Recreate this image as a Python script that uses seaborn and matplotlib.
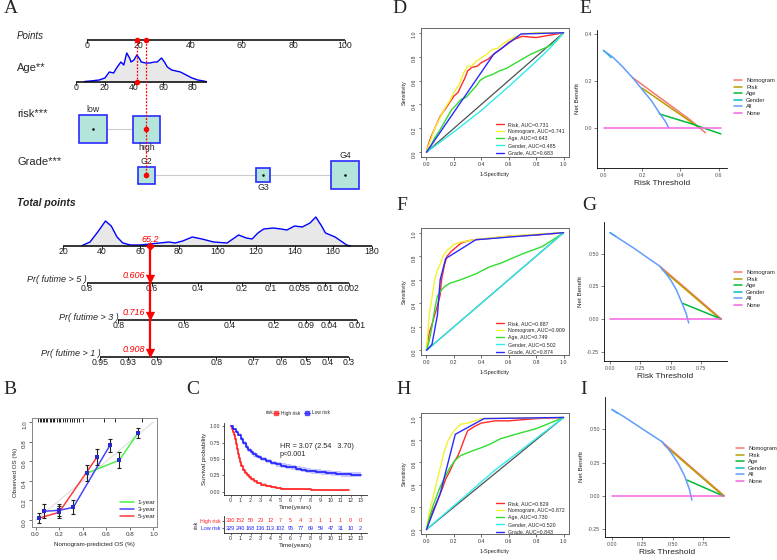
# ==========================================================
# Nomogram + calibration + KM + ROC + DCA (multi-panel figure)
# ==========================================================
import numpy as np
import pandas as pd
import seaborn as sns
import matplotlib.pyplot as plt
from matplotlib.lines import Line2D
from matplotlib.patches import Rectangle

# ----------------------------------------------------------
# 1. Data
# ----------------------------------------------------------
# A - nomogram
points_ticks = [0, 20, 40, 60, 80, 100]
age_ticks = [0, 20, 40, 60, 80]
age_grid = [6, 10, 16, 20, 23, 26, 28, 31, 33, 35, 37, 38, 40, 42, 44, 45, 48, 51, 54, 56,
            59, 61, 63, 66, 69, 72, 76, 80, 84, 88, 90]
age_dens = [0.5, 1, 2, 4, 10, 9, 14, 20, 17, 29, 24, 20, 22, 27, 23, 20, 19, 19, 20, 20,
            24, 20, 15, 12, 11, 10, 7, 4, 2, 1, 0.3]
risk_levels = ['low', 'high']
risk_points = [2.3, 23.0]
grade_levels = ['G2', 'G3', 'G4']
grade_points = [23.0, 68.2, 100.0]
total_ticks = [20, 40, 60, 80, 100, 120, 140, 160, 180]
total_grid = [30, 34, 38, 42, 45, 48, 51, 55, 60, 65, 70, 75, 78, 82, 87, 92, 98, 105, 108, 111,
              115, 118, 121, 124, 129, 133, 136, 140, 144, 148, 151, 154, 156, 161, 164, 167, 169]
total_dens = [0.5, 4, 14, 25, 20, 9, 3, 1, 1, 2, 3, 4, 3, 5, 9, 7, 4, 3, 7, 11,
              8, 7, 13, 17, 18, 17, 16, 20, 19, 23, 29, 20, 13, 9, 5, 1, 0]
pr_titles = ['Pr( futime > 5 )', 'Pr( futime > 3 )', 'Pr( futime > 1 )']
pr_pred = [0.606, 0.716, 0.908]
pr_ticks = [[0.8, 0.6, 0.4, 0.2, 0.1, 0.035, 0.01, 0.002],
            [0.8, 0.6, 0.4, 0.2, 0.09, 0.04, 0.01],
            [0.95, 0.93, 0.9, 0.8, 0.7, 0.6, 0.5, 0.4, 0.3]]
patient_age = 42
patient_total = 65.2
cox_beta = 0.0245          # log-hazard per total point

# B - calibration
cal_groups = ['1-year', '3-year', '5-year']
cal_pred_1y = [0.44, 0.71, 0.87]
cal_obs_1y = [0.48, 0.61, 0.89]
cal_err_1y = [0.08, 0.08, 0.05]
cal_pred_3y = [0.07, 0.20, 0.32, 0.63]
cal_obs_3y = [0.09, 0.10, 0.13, 0.76]
cal_err_3y = [0.07, 0.06, 0.07, 0.07]
cal_pred_5y = [0.03, 0.20, 0.52]
cal_obs_5y = [0.02, 0.08, 0.64]
cal_err_5y = [0.05, 0.06, 0.08]
rug_pred = [0.02, 0.035, 0.05, 0.06, 0.075, 0.09, 0.10, 0.12, 0.13, 0.15, 0.16, 0.18, 0.20,
            0.21, 0.23, 0.25, 0.27, 0.29, 0.31, 0.33, 0.35, 0.37, 0.40, 0.58, 0.67, 0.90]

# C - Kaplan-Meier
km_time_high = [0, 0.1, 0.2, 0.3, 0.4, 0.5, 0.6, 0.7, 0.8, 0.9, 1.0, 1.2, 1.4, 1.6, 1.8, 2.0,
                2.3, 2.6, 3.0, 3.5, 4.0, 4.5, 5.0, 6.0, 7.0, 8.0, 9.0, 10.0, 11.0, 11.8]
km_surv_high = [1, 0.96, 0.92, 0.87, 0.81, 0.73, 0.66, 0.58, 0.51, 0.45, 0.40, 0.33, 0.29, 0.25,
                0.22, 0.19, 0.16, 0.13, 0.11, 0.09, 0.075, 0.06, 0.045, 0.04, 0.035, 0.03, 0.02,
                0.02, 0.02, 0.02]
km_ci_high = [0, 0.01, 0.015, 0.02, 0.022, 0.025, 0.026, 0.027, 0.027, 0.027, 0.027, 0.026,
              0.025, 0.024, 0.022, 0.021, 0.02, 0.018, 0.017, 0.015, 0.014, 0.013, 0.012, 0.011,
              0.01, 0.01, 0.01, 0.01, 0.01, 0.01]
km_time_low = [0, 0.25, 0.5, 0.75, 1.0, 1.25, 1.5, 1.75, 2.0, 2.25, 2.5, 2.75, 3.0, 3.5, 4.0, 4.5,
               5.0, 5.5, 6.0, 6.5, 7.0, 7.5, 8.0, 8.5, 9.0, 9.5, 10.0, 10.5, 11.0, 12.0, 13.0]
km_surv_low = [1, 0.96, 0.92, 0.87, 0.81, 0.75, 0.69, 0.64, 0.60, 0.57, 0.55, 0.53, 0.50, 0.47,
               0.44, 0.42, 0.40, 0.385, 0.375, 0.35, 0.335, 0.32, 0.31, 0.305, 0.30, 0.29, 0.28,
               0.275, 0.27, 0.26, 0.26]
km_ci_low = [0, 0.015, 0.02, 0.025, 0.028, 0.03, 0.032, 0.033, 0.034, 0.035, 0.035, 0.035, 0.036,
             0.036, 0.036, 0.036, 0.036, 0.036, 0.037, 0.037, 0.037, 0.037, 0.038, 0.038, 0.038,
             0.038, 0.038, 0.039, 0.039, 0.04, 0.04]
table_times = list(range(14))
n_high = [330, 152, 50, 23, 12, 7, 5, 4, 3, 1, 1, 1, 0, 0]
n_low = [329, 240, 168, 136, 113, 102, 95, 77, 69, 59, 47, 31, 10, 2]

# D/F/H - ROC curves (fpr, tpr)
roc_names = ['Risk', 'Nomogram', 'Age', 'Gender', 'Grade']
auc_D = [0.731, 0.741, 0.643, 0.485, 0.683]
auc_F = [0.887, 0.909, 0.749, 0.502, 0.874]
auc_H = [0.829, 0.872, 0.730, 0.520, 0.843]
roc_D_risk = [(0, 0), (0.01, 0.05), (0.03, 0.12), (0.06, 0.2), (0.1, 0.3), (0.13, 0.35), (0.16, 0.4),
              (0.2, 0.47), (0.23, 0.5), (0.25, 0.55), (0.28, 0.62), (0.3, 0.68), (0.33, 0.71),
              (0.37, 0.72), (0.4, 0.75), (0.45, 0.78), (0.5, 0.83), (0.55, 0.87), (0.6, 0.92),
              (0.65, 0.95), (0.7, 0.97), (0.8, 0.96), (0.9, 0.98), (1, 1)]
roc_D_nomo = [(0, 0), (0.01, 0.04), (0.03, 0.1), (0.06, 0.2), (0.1, 0.29), (0.13, 0.36), (0.17, 0.43),
              (0.2, 0.5), (0.24, 0.57), (0.27, 0.66), (0.3, 0.72), (0.33, 0.72), (0.36, 0.76),
              (0.4, 0.79), (0.44, 0.82), (0.48, 0.86), (0.52, 0.87), (0.56, 0.91), (0.6, 0.94),
              (0.64, 0.96), (0.7, 0.99), (0.8, 1.0), (1, 1)]
roc_D_age = [(0, 0), (0.03, 0.05), (0.06, 0.12), (0.1, 0.19), (0.14, 0.27), (0.18, 0.35), (0.22, 0.4),
             (0.25, 0.44), (0.29, 0.46), (0.32, 0.5), (0.36, 0.55), (0.39, 0.6), (0.43, 0.63),
             (0.48, 0.65), (0.53, 0.68), (0.58, 0.7), (0.64, 0.74), (0.7, 0.78), (0.76, 0.82),
             (0.82, 0.85), (0.88, 0.88), (0.94, 0.92), (1, 1)]
roc_D_gender = [(0, 0), (0.2, 0.17), (0.4, 0.35), (0.6, 0.55), (0.8, 0.76), (0.9, 0.87), (1, 1)]
roc_D_grade = [(0, 0), (0.49, 0.82), (0.69, 0.99), (1, 1)]
roc_F_risk = [(0, 0), (0.01, 0.08), (0.02, 0.15), (0.04, 0.22), (0.06, 0.3), (0.08, 0.38), (0.1, 0.47),
              (0.11, 0.6), (0.13, 0.72), (0.15, 0.8), (0.18, 0.84), (0.21, 0.87), (0.25, 0.91),
              (0.3, 0.93), (0.35, 0.94), (0.45, 0.95), (0.6, 0.97), (0.8, 0.98), (1, 1)]
roc_F_nomo = [(0, 0), (0.01, 0.15), (0.02, 0.3), (0.04, 0.45), (0.06, 0.6), (0.08, 0.68), (0.1, 0.73),
              (0.12, 0.8), (0.15, 0.85), (0.2, 0.9), (0.25, 0.92), (0.35, 0.94), (0.5, 0.96),
              (0.7, 0.98), (1, 1)]
roc_F_age = [(0, 0), (0.02, 0.08), (0.04, 0.2), (0.06, 0.35), (0.08, 0.46), (0.1, 0.5), (0.13, 0.54),
             (0.17, 0.57), (0.25, 0.6), (0.36, 0.65), (0.46, 0.71), (0.54, 0.74), (0.62, 0.78),
             (0.7, 0.82), (0.84, 0.88), (0.91, 0.93), (1, 1)]
roc_F_gender = [(0, 0), (0.5, 0.5), (1, 1)]
roc_F_grade = [(0, 0), (0.04, 0.05), (0.08, 0.3), (0.1, 0.6), (0.14, 0.78), (0.36, 0.94), (1, 1)]
roc_H_risk = [(0, 0), (0.02, 0.08), (0.04, 0.15), (0.07, 0.23), (0.1, 0.32), (0.12, 0.38), (0.14, 0.45),
              (0.17, 0.52), (0.2, 0.6), (0.23, 0.66), (0.25, 0.72), (0.28, 0.82), (0.3, 0.88),
              (0.35, 0.92), (0.4, 0.95), (0.5, 0.97), (0.6, 0.97), (0.8, 0.99), (1, 1)]
roc_H_nomo = [(0, 0), (0.02, 0.15), (0.05, 0.3), (0.08, 0.45), (0.1, 0.55), (0.13, 0.7), (0.16, 0.8),
              (0.2, 0.88), (0.25, 0.94), (0.3, 0.95), (0.4, 0.99), (1, 1)]
roc_H_age = [(0, 0), (0.02, 0.1), (0.05, 0.22), (0.1, 0.38), (0.14, 0.48), (0.17, 0.55), (0.21, 0.62),
             (0.25, 0.66), (0.33, 0.7), (0.4, 0.73), (0.46, 0.76), (0.54, 0.81), (0.65, 0.85),
             (0.8, 0.9), (0.9, 0.95), (1, 1)]
roc_H_gender = [(0, 0), (0.5, 0.53), (1, 1)]
roc_H_grade = [(0, 0), (0.1, 0.32), (0.21, 0.85), (0.42, 0.99), (1, 1)]

# E/G/I - decision curves (threshold, net benefit)
dca_models = ['Nomogram', 'Risk', 'Age', 'Gender', 'All', 'None']
dca_E_nomogram = [(0.15, 0.215), (0.3, 0.125), (0.45, 0.035), (0.53, -0.02)]
dca_E_risk = [(0.2, 0.17), (0.35, 0.085), (0.5, 0.0)]
dca_E_age = [(0.29, 0.06), (0.45, 0.02), (0.61, -0.025)]
dca_E_gender = [(0.0, 0.33), (0.04, 0.30)]
dca_E_all = [(0.0, 0.33), (0.05, 0.30), (0.1, 0.26), (0.15, 0.215), (0.2, 0.165), (0.25, 0.115),
             (0.29, 0.065), (0.32, 0.03), (0.34, 0.0)]
dca_E_none = [(0.0, 0.0), (0.61, 0.0)]
dca_G_nomogram = [(0.41, 0.405), (0.6, 0.255), (0.92, 0.0)]
dca_G_risk = [(0.43, 0.38), (0.91, 0.0)]
dca_G_age = [(0.6, 0.12), (0.92, 0.0)]
dca_G_gender = [(0.0, 0.66), (0.05, 0.63)]
dca_G_all = [(0.0, 0.66), (0.1, 0.6), (0.2, 0.54), (0.3, 0.475), (0.41, 0.405), (0.46, 0.35),
             (0.5, 0.3), (0.55, 0.22), (0.6, 0.11), (0.63, 0.04), (0.65, -0.03)]
dca_G_none = [(0.0, 0.0), (0.92, 0.0)]
dca_I_nomogram = [(0.41, 0.41), (0.6, 0.26), (0.93, 0.0)]
dca_I_risk = [(0.43, 0.385), (0.92, 0.0)]
dca_I_age = [(0.62, 0.12), (0.92, 0.0)]
dca_I_gender = [(0.0, 0.65), (0.05, 0.62)]
dca_I_all = [(0.0, 0.65), (0.1, 0.595), (0.2, 0.535), (0.3, 0.475), (0.41, 0.41), (0.46, 0.36),
             (0.5, 0.31), (0.55, 0.24), (0.6, 0.15), (0.64, 0.05), (0.66, -0.03)]
dca_I_none = [(0.0, 0.0), (0.92, 0.0)]

# ----------------------------------------------------------
# 2. Figure setup
# ----------------------------------------------------------
sns.set_theme(style='white')
plt.rcParams['font.family'] = ['Liberation Sans', 'DejaVu Sans']
plt.rcParams['axes.linewidth'] = 0.6
SERIF = ['Liberation Serif', 'DejaVu Serif']

W, H = 777, 560
fig = plt.figure(figsize=(W / 100, H / 100), dpi=100)
fig.patch.set_facecolor('white')


def px_axes(x0, y0, x1, y1):
    return fig.add_axes([x0 / W, 1 - y1 / H, (x1 - x0) / W, (y1 - y0) / H])


def ftext(x, y, s, **kw):
    return fig.text(x / W, 1 - y / H, s, **kw)


for lab, x, y in [('A', 4, 0), ('B', 3, 381), ('C', 186, 381), ('D', 392, 0), ('E', 579, 0),
                  ('F', 396, 197), ('G', 582, 197), ('H', 396, 381), ('I', 580, 381)]:
    ftext(x, y, lab, fontsize=14, family=SERIF, va='top', ha='left')

# ----------------------------------------------------------
# 3. Panel A - nomogram
# ----------------------------------------------------------
PX_PER_PT = 2.58


def px2pt(px):
    return (px - 87) / PX_PER_PT


def age2pt(a):
    return -4.3 + 0.5625 * np.asarray(a, float)


def tot2pt(t):
    return -9.3 + (np.asarray(t, float) - 20) * 0.748


def prob2tot(p, p_pred):
    p = np.asarray(p, float)
    return patient_total + (np.log(-np.log(p)) - np.log(-np.log(p_pred))) / cox_beta


axA = px_axes(0, 0, 440, 375)
axA.set_xlim(px2pt(0), px2pt(440))
axA.set_ylim(375, 0)
axA.axis('off')

Y_POINTS, Y_AGE, Y_RISK, Y_GRADE, Y_TOTAL = 40, 82, 129, 175, 246
Y_PR = [283, 320, 357]


def nomo_scale(y, xs, labels, span=None, fs=6.3):
    lo, hi = span if span else (min(xs), max(xs))
    axA.plot([lo, hi], [y, y], color='black', lw=1.1, solid_capstyle='butt', zorder=2)
    for x, lab in zip(xs, labels):
        axA.plot([x, x], [y, y + 2.5], color='black', lw=0.6, zorder=2)
        axA.text(x, y + 1.2, lab, ha='center', va='top', fontsize=fs, color='#222222')


def nomo_box(x, y, side):
    axA.add_patch(Rectangle((x - side / 2 / PX_PER_PT, y - side / 2), side / PX_PER_PT, side,
                            facecolor='#b3e5da', edgecolor='#2a2aff', lw=1.2, zorder=3))
    axA.plot(x, y, marker='o', color='black', ms=0.8, zorder=4)


xl = px2pt(17)
axA.text(xl, 36, 'Points', style='italic', fontsize=7, va='center')
axA.text(xl, 68, 'Age**', fontsize=8, va='center')
axA.text(xl, 114, 'risk***', fontsize=8, va='center')
axA.text(xl, 162, 'Grade***', fontsize=8, va='center')
axA.text(xl, 203, 'Total points', style='italic', weight='bold', fontsize=7.5, va='center')

nomo_scale(Y_POINTS, points_ticks, [str(v) for v in points_ticks])

# age density and scale
ag = age2pt(age_grid)
hd = np.array(age_dens)
axA.fill_between(ag, Y_AGE, Y_AGE - hd, color='#e8e8e8', lw=0, zorder=1)
axA.plot(ag, Y_AGE - hd, color='blue', lw=1.0, zorder=2)
nomo_scale(Y_AGE, age2pt(age_ticks), [str(v) for v in age_ticks],
           span=(age2pt(0), age2pt(max(age_grid))))

# risk boxes
axA.plot([risk_points[0], risk_points[-1]], [Y_RISK, Y_RISK], color='#cccccc', lw=0.8, zorder=2)
risk_side = {'low': 28, 'high': 27}
for lev, x in zip(risk_levels, risk_points):
    s = risk_side[lev]
    nomo_box(x, Y_RISK, s)
    if lev == 'low':
        axA.text(x, Y_RISK - s / 2 - 0.5, lev, ha='center', va='bottom', fontsize=6.3)
    else:
        axA.text(x, Y_RISK + s / 2 + 0.5, lev, ha='center', va='top', fontsize=6.3)

# grade boxes
axA.plot([grade_points[0], grade_points[-1]], [Y_GRADE, Y_GRADE], color='#cccccc', lw=0.8, zorder=2)
grade_side = {'G2': 17, 'G3': 14, 'G4': 28}
for lev, x in zip(grade_levels, grade_points):
    s = grade_side[lev]
    nomo_box(x, Y_GRADE, s)
    if lev == 'G3':
        axA.text(x, Y_GRADE + s / 2 + 0.5, lev, ha='center', va='top', fontsize=6.3)
    else:
        axA.text(x, Y_GRADE - s / 2 - 0.5, lev, ha='center', va='bottom', fontsize=6.3)

# total points density and scale
tg = tot2pt(total_grid)
td = np.array(total_dens)
axA.fill_between(tg, Y_TOTAL, Y_TOTAL - td, color='#e8e8e8', lw=0, zorder=1)
axA.plot(tg, Y_TOTAL - td, color='blue', lw=1.0, zorder=2)
nomo_scale(Y_TOTAL, tot2pt(total_ticks), [str(v) for v in total_ticks])

# probability scales
for y, title, ticks, p0 in zip(Y_PR, pr_titles, pr_ticks, pr_pred):
    xs = tot2pt(prob2tot(ticks, p0))
    nomo_scale(y, xs, [f'{v:g}' for v in ticks])
    axA.text(min(xs), y - 3, title, style='italic', fontsize=6.5, ha='right', va='center')

# patient path in red
x_age = float(age2pt(patient_age))
x_rg = risk_points[1]
axA.plot([x_age, x_age], [Y_POINTS, Y_AGE], color='red', ls=(0, (1.5, 1.2)), lw=0.9, zorder=5)
axA.plot([x_rg, x_rg], [Y_POINTS, Y_GRADE], color='red', ls=(0, (1.5, 1.2)), lw=0.9, zorder=5)
axA.scatter([x_age, x_rg, x_age, x_rg, grade_points[0]],
            [Y_POINTS, Y_POINTS, Y_AGE, Y_RISK, Y_GRADE], s=16, color='red', zorder=6, linewidths=0)
xt = float(tot2pt(patient_total))
axA.plot([xt, xt], [Y_TOTAL, Y_PR[-1] - 2], color='red', lw=1.6, zorder=5)
axA.scatter([xt], [Y_TOTAL], marker='D', s=20, color='red', zorder=6, linewidths=0)
axA.scatter([xt] * 3, [y - 4 for y in Y_PR], marker='v', s=45, color='red', zorder=6, linewidths=0)
axA.text(xt, Y_TOTAL - 2.5, f'{patient_total:g}', color='red', style='italic', fontsize=6.5,
         ha='center', va='bottom', zorder=7)
for y, p in zip(Y_PR, pr_pred):
    axA.text(xt - 1.8, y - 3, f'{p:.3f}', color='red', style='italic', fontsize=6.5,
             ha='right', va='bottom')

# ----------------------------------------------------------
# 4. Panel B - calibration
# ----------------------------------------------------------
axB = px_axes(32, 418, 157, 527)
axB.plot([0, 1], [0, 1], color='#dddddd', lw=0.8, zorder=1)
cal_colors = ['#4cf04c', '#4646ff', '#ff3b3b']
cal_sets = [(cal_pred_1y, cal_obs_1y, cal_err_1y), (cal_pred_3y, cal_obs_3y, cal_err_3y),
            (cal_pred_5y, cal_obs_5y, cal_err_5y)]
for (pr, ob, er), col in zip(cal_sets, cal_colors):
    sns.lineplot(x=pr, y=ob, color=col, lw=1.1, sort=False, estimator=None, ax=axB, zorder=3)
    axB.errorbar(pr, ob, yerr=er, fmt='none', ecolor='#222222', elinewidth=0.8, capsize=1.3,
                 capthick=0.8, zorder=4)
    axB.scatter(pr, ob, marker='s', s=7, color='#2a2acc', zorder=5, linewidths=0)
axB.vlines(rug_pred, 1.0, 1.04, color='black', lw=0.6)
axB.set_xlim(-0.03, 1.03)
axB.set_ylim(-0.07, 1.04)
tk = [0, 0.2, 0.4, 0.6, 0.8, 1.0]
axB.set_xticks(tk)
axB.set_xticklabels([f'{t:.1f}' for t in tk])
axB.set_yticks(tk)
axB.set_yticklabels([f'{t:.1f}' for t in tk])
axB.tick_params(labelsize=4.5, length=2, width=0.5, pad=1.5, colors='#333333',
                bottom=True, left=True, direction='out')
axB.tick_params(axis='y', labelrotation=90)
for sp in axB.spines.values():
    sp.set_color('#888888')
    sp.set_linewidth(0.7)
axB.set_xlabel('Nomogram-predicted OS (%)', fontsize=4.5, labelpad=4)
axB.set_ylabel('Observed OS (%)', fontsize=4.5, labelpad=3)
axB.legend(handles=[Line2D([], [], color=c, lw=1.1) for c in cal_colors], labels=cal_groups,
           loc='upper left', bbox_to_anchor=(120 / W, 1 - 500 / H), bbox_transform=fig.transFigure,
           frameon=False, fontsize=4.5, handlelength=2.2, handletextpad=0.6, labelspacing=0.25,
           borderpad=0, borderaxespad=0)

# ----------------------------------------------------------
# 5. Panel C - Kaplan-Meier with risk table
# ----------------------------------------------------------
km_colors = {'High risk': '#ff2020', 'Low risk': '#2020ff'}
km = pd.concat([
    pd.DataFrame({'time': km_time_high, 'surv': km_surv_high, 'ci': km_ci_high, 'group': 'High risk'}),
    pd.DataFrame({'time': km_time_low, 'surv': km_surv_low, 'ci': km_ci_low, 'group': 'Low risk'}),
])
axC = px_axes(224, 423, 367, 495)
for grp, d in km.groupby('group'):
    axC.fill_between(d['time'], (d['surv'] - d['ci']).clip(lower=0), d['surv'] + d['ci'],
                     step='post', color=km_colors[grp], alpha=0.25, lw=0)
sns.lineplot(data=km, x='time', y='surv', hue='group', palette=km_colors, estimator=None,
             sort=False, drawstyle='steps-post', lw=1.2, legend=False, ax=axC)
axC.set_xlim(-0.65, 13.65)
axC.set_ylim(-0.05, 1.05)
axC.set_xticks(table_times)
axC.set_yticks([0, 0.25, 0.5, 0.75, 1.0])
axC.set_yticklabels(['0.00', '0.25', '0.50', '0.75', '1.00'])
axC.tick_params(labelsize=3.8, length=1.5, width=0.5, pad=1, bottom=True, left=True,
                colors='#333333')
sns.despine(ax=axC)
axC.set_xlabel('Time(years)', fontsize=4.5, labelpad=1)
axC.set_ylabel('Survival probability', fontsize=4.5, labelpad=2)
ftext(280, 446, 'HR = 3.07 (2.54   3.70)', fontsize=5.2, va='center')
ftext(280, 454, 'p<0.001', fontsize=5.2, va='center')
ftext(266, 413, 'risk', fontsize=3.5, va='center')
axC.legend(handles=[Line2D([], [], color=c, lw=0.8, marker='s', ms=3,
                           markerfacecolor=c, markeredgecolor=c, alpha=0.7)
                    for c in km_colors.values()],
           labels=list(km_colors), ncol=2, loc='center left',
           bbox_to_anchor=(273 / W, 1 - 413 / H), bbox_transform=fig.transFigure,
           frameon=False, fontsize=3.5, handlelength=1.2, handletextpad=0.4, columnspacing=0.8,
           borderpad=0, borderaxespad=0)

axT = px_axes(224, 516, 367, 533)
axT.set_xlim(-0.65, 13.65)
axT.set_ylim(-0.6, 1.6)
for row, (grp, counts) in enumerate([('High risk', n_high), ('Low risk', n_low)]):
    for t, n in zip(table_times, counts):
        axT.text(t, 1 - row, str(n), color=km_colors[grp], ha='center', va='center', fontsize=4)
axT.set_xticks(table_times)
axT.set_yticks([1, 0])
axT.set_yticklabels(list(km_colors))
for lab, c in zip(axT.get_yticklabels(), km_colors.values()):
    lab.set_color(c)
axT.tick_params(labelsize=3.8, length=1.5, width=0.5, pad=1, bottom=True, left=True)
sns.despine(ax=axT)
axT.set_xlabel('Time(years)', fontsize=4.5, labelpad=1)
axT.set_ylabel('risk', fontsize=3.8, labelpad=1)

# ----------------------------------------------------------
# 6. Panels D/F/H - ROC curves
# ----------------------------------------------------------
roc_colors = ['#ff2a2a', '#f2f230', '#30dd30', '#30ecec', '#2a2aff']
roc_palette = dict(zip(roc_names, roc_colors))


def draw_roc(box, curves, aucs, leg_xy):
    ax = px_axes(*box)
    df = pd.concat([pd.DataFrame(c, columns=['fpr', 'tpr']).assign(model=n)
                    for n, c in zip(roc_names, curves)])
    ax.plot([0, 1], [0, 1], color='#505050', lw=0.9, zorder=1)
    sns.lineplot(data=df, x='fpr', y='tpr', hue='model', hue_order=roc_names, palette=roc_palette,
                 estimator=None, sort=False, lw=1.0, legend=False, ax=ax)
    ax.set_xlim(-0.04, 1.04)
    ax.set_ylim(-0.04, 1.04)
    ax.set_xticks(tk)
    ax.set_xticklabels([f'{t:.1f}' for t in tk])
    ax.set_yticks(tk)
    ax.set_yticklabels([f'{t:.1f}' for t in tk])
    ax.tick_params(labelsize=3.8, length=1.8, width=0.5, pad=1.5, colors='#333333',
                   bottom=True, left=True, direction='out')
    ax.tick_params(axis='y', labelrotation=90)
    for sp in ax.spines.values():
        sp.set_color('#666666')
        sp.set_linewidth(0.7)
    ax.set_xlabel('1-Specificity', fontsize=4, labelpad=4)
    ax.set_ylabel('Sensitivity', fontsize=4, labelpad=3)
    ax.legend(handles=[Line2D([], [], color=c, lw=1.0) for c in roc_colors],
              labels=[f'{n}, AUC={a:.3f}' for n, a in zip(roc_names, aucs)],
              loc='upper left', bbox_to_anchor=(leg_xy[0] / W, 1 - leg_xy[1] / H),
              bbox_transform=fig.transFigure, frameon=False, fontsize=3.8, handlelength=1.5,
              handletextpad=0.7, labelspacing=0.4, borderpad=0, borderaxespad=0)


draw_roc((421, 28, 569, 157), [roc_D_risk, roc_D_nomo, roc_D_age, roc_D_gender, roc_D_grade],
         auc_D, (496, 122))
draw_roc((421, 228, 569, 355), [roc_F_risk, roc_F_nomo, roc_F_age, roc_F_gender, roc_F_grade],
         auc_F, (496, 321))
draw_roc((421, 413, 569, 534), [roc_H_risk, roc_H_nomo, roc_H_age, roc_H_gender, roc_H_grade],
         auc_H, (496, 501))

# ----------------------------------------------------------
# 7. Panels E/G/I - decision curves
# ----------------------------------------------------------
dca_colors = ['#F8766D', '#B79F00', '#00BA38', '#00BFC4', '#619CFF', '#F564E3']
dca_palette = dict(zip(dca_models, dca_colors))


def draw_dca(box, series, xlim, ylim, xticks, yticks, fmt, leg_xy):
    ax = px_axes(*box)
    df = pd.concat([pd.DataFrame(s, columns=['threshold', 'nb']).assign(model=m)
                    for m, s in zip(dca_models, series)])
    sns.lineplot(data=df, x='threshold', y='nb', hue='model', hue_order=dca_models,
                 palette=dca_palette, estimator=None, sort=False, lw=1.1, legend=False, ax=ax)
    ax.set_xlim(*xlim)
    ax.set_ylim(*ylim)
    ax.set_xticks(xticks)
    ax.set_xticklabels([fmt.format(v) for v in xticks])
    ax.set_yticks(yticks)
    ax.set_yticklabels([fmt.format(v) for v in yticks])
    ax.tick_params(labelsize=3.8, length=2, width=0.5, pad=1.5, colors='#4d4d4d',
                   bottom=True, left=True)
    sns.despine(ax=ax)
    for sp in ('left', 'bottom'):
        ax.spines[sp].set_color('black')
        ax.spines[sp].set_linewidth(0.6)
    ax.set_xlabel('Risk Threshold', fontsize=6, labelpad=1.5)
    ax.set_ylabel('Net Benefit', fontsize=4.5, labelpad=3)
    ax.legend(handles=[Line2D([], [], color=c, lw=1.1) for c in dca_colors], labels=dca_models,
              loc='upper left', bbox_to_anchor=(leg_xy[0] / W, 1 - leg_xy[1] / H),
              bbox_transform=fig.transFigure, frameon=False, fontsize=4.2, handlelength=1.3,
              handletextpad=0.8, labelspacing=0.25, borderpad=0, borderaxespad=0)


draw_dca((597, 30, 727, 168),
         [dca_E_nomogram, dca_E_risk, dca_E_age, dca_E_gender, dca_E_all, dca_E_none],
         (-0.034, 0.642), (-0.17, 0.417), [0.0, 0.2, 0.4, 0.6], [0.0, 0.2, 0.4], '{:.1f}', (734, 78))
draw_dca((604, 222, 727, 361),
         [dca_G_nomogram, dca_G_risk, dca_G_age, dca_G_gender, dca_G_all, dca_G_none],
         (-0.05, 0.967), (-0.321, 0.742), [0.0, 0.25, 0.5, 0.75], [-0.25, 0.0, 0.25, 0.5],
         '{:.2f}', (734, 270))
draw_dca((605, 397, 729, 537),
         [dca_I_nomogram, dca_I_risk, dca_I_age, dca_I_gender, dca_I_all, dca_I_none],
         (-0.058, 0.967), (-0.308, 0.744), [0.0, 0.25, 0.5, 0.75], [-0.25, 0.0, 0.25, 0.5],
         '{:.2f}', (736, 446))

fig.savefig('out.png', dpi=100)
